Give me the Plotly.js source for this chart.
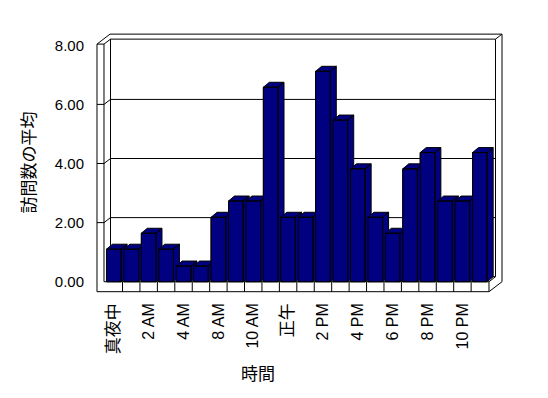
<!DOCTYPE html>
<html>
<head>
<meta charset="utf-8">
<script src="https://cdn.plot.ly/plotly-3.0.1.min.js"></script>
<style>html,body{margin:0;padding:0;background:#fff;}#chart{width:548px;height:398px;}</style>
</head>
<body>
<div id="chart"></div>
<script>
// ---- data ----
const hours = ['真夜中','1 AM','2 AM','3 AM','4 AM','5 AM','8 AM','9 AM','10 AM','11 AM','正午','1 PM',
               '2 PM','3 PM','4 PM','5 PM','6 PM','7 PM','8 PM','9 PM','10 PM','11 PM'];
const avgVisits = [1.10,1.10,1.64,1.10,0.53,0.53,2.18,2.73,2.73,6.58,2.18,2.18,
                   7.12,5.47,3.82,2.18,1.64,3.82,4.37,2.73,2.73,4.37];
const yTicks = [0,2,4,6,8];
const xTitle = '時間';
const yTitle = '訪問数の平均';

// ---- style / geometry ----
const FONT = "'Liberation Sans', Arial, 'Noto Sans CJK JP', sans-serif";
const NAVY = '#000080';
const halfW = 0.42;      // half bar width (category units)
const bdx = 0.344, bdy = 0.169;   // bar depth offset (data units)
const ddx = 0.373, ddy = 0.169;   // wall depth step (data units)
const xL0 = -0.965, xL1 = -0.563, xR = 21.525, yBot = -0.338, yTop = 8.04;

const idx = hours.map((h, i) => i);
const traces = [];

// base bar trace (front faces)
traces.push({
  type: 'bar', x: idx, y: avgVisits, width: 2 * halfW, customdata: hours,
  marker: {color: NAVY, line: {color: '#000', width: 1}},
  hovertemplate: '%{customdata}: %{y:.2f}<extra></extra>', showlegend: false
});

// 3D faces per bar, painted left to right
avgVisits.forEach((h, i) => {
  const xl = i - halfW, xr = i + halfW;
  const xs = [xr, xr, xr + bdx, xr + bdx, xr, null,
              xl, xl + bdx, xr + bdx, xr, xl, null,
              xl, xl, xr, xr, xl];
  const ys = [0, h, h + bdy, bdy, 0, null,
              h, h + bdy, h + bdy, h, h, null,
              0, h, h, 0, 0];
  traces.push({
    type: 'scatter', mode: 'lines', x: xs, y: ys, fill: 'toself', fillcolor: NAVY,
    line: {color: '#000', width: 1}, hoverinfo: 'skip', showlegend: false, connectgaps: false
  });
});

// ---- frame shapes (walls & floor) ----
const shapes = [];
function seg(x0, y0, x1, y1) {
  shapes.push({type: 'line', xref: 'x', yref: 'y', x0, y0, x1, y1, layer: 'below',
               line: {color: '#000', width: 1}});
}
// back wall gridlines + left-wall connectors
[2, 4, 6].forEach(v => {
  seg(xL0, v, xL1, v);
  seg(xL1, v, xL1 + ddx, v + ddy);
  seg(xL1 + ddx, v + ddy, xR + ddx, v + ddy);
});
// back wall front face edges
seg(xL1 + ddx, ddy, xL1 + ddx, yTop + ddy);
seg(xL1 + ddx, yTop + ddy, xR + ddx, yTop + ddy);
seg(xR + ddx, ddy, xR + ddx, yTop + ddy);
seg(xL1 + ddx, ddy, xR + ddx, ddy);
// back wall back edges
seg(xL0 + 2 * ddx, yTop + 2 * ddy, xR + 2 * ddx, yTop + 2 * ddy);
seg(xR + 2 * ddx, yBot + 2 * ddy, xR + 2 * ddx, yTop + 2 * ddy);
seg(xR + ddx, yTop + ddy, xR + 2 * ddx, yTop + 2 * ddy);
// left wall
seg(xL0, yBot, xL0, yTop);
seg(xL1, 0, xL1, yTop);
seg(xL0, yTop, xL1, yTop);
seg(xL0, yTop, xL0 + 2 * ddx, yTop + 2 * ddy);
seg(xL1, yTop, xL1 + ddx, yTop + ddy);
// floor
seg(xL0, yBot, xR, yBot);
seg(xL1, 0, xR, 0);
seg(xR, yBot, xR, 0);
seg(xR, 0, xR + ddx, ddy);
seg(xR, yBot, xR + 2 * ddx, yBot + 2 * ddy);
for (let k = 0; k < hours.length - 1; k++) seg(k + 0.5, 0, k + 0.5, yBot);

// ---- tick labels ----
const tickIdx = idx.filter(i => i % 2 === 0);
const tickText = tickIdx.map(i => /[A-Z]/.test(hours[i])
  ? '<span style="font-size:16px;color:#000">' + hours[i] + '</span>'
  : '<span style="font-size:17px;color:#000">' + hours[i] + '</span>');

const layout = {
  width: 548, height: 398,
  margin: {l: 95, r: 44, t: 31, b: 104},
  paper_bgcolor: '#fff', plot_bgcolor: 'rgba(0,0,0,0)',
  font: {family: FONT, size: 15, color: '#000'},
  showlegend: false,
  xaxis: {
    type: 'linear', range: [-1.079, 22.386], showgrid: false, zeroline: false, showline: false,
    tickmode: 'array', tickvals: tickIdx, ticktext: tickText, tickangle: -90, ticks: '',
    ticklabelstandoff: 5, tickfont: {family: FONT, size: 16, color: '#000'}, fixedrange: true
  },
  yaxis: {
    range: [-0.416, 8.484], showgrid: false, zeroline: false, showline: false,
    tickmode: 'array', tickvals: yTicks, tickformat: '.2f', ticks: '',
    ticklabelstandoff: 10, tickfont: {family: FONT, size: 15, color: '#000'},
    title: {text: yTitle, font: {family: FONT, size: 17, color: '#000'}, standoff: 14}, fixedrange: true
  },
  shapes: shapes,
  annotations: [{
    text: xTitle, xref: 'paper', yref: 'paper', x: (258 - 95) / 409, y: (294 - 374) / 263,
    xanchor: 'center', yanchor: 'middle', showarrow: false, font: {family: FONT, size: 17, color: '#000'}
  }]
};

Plotly.newPlot('chart', traces, layout, {displayModeBar: false, staticPlot: true});
</script>
</body>
</html>
